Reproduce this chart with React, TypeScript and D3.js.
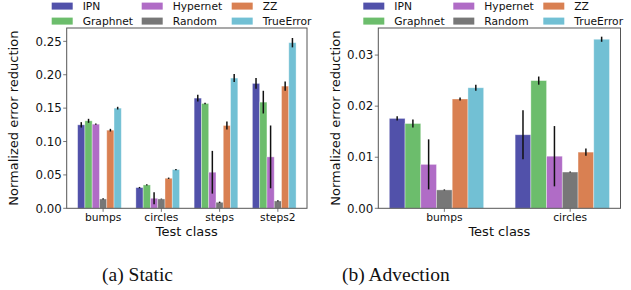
import React from "react";
import * as d3 from "d3";

const methods = ["IPN", "Graphnet", "Hypernet", "Random", "ZZ", "TrueError"];
const colors = ["#5151aa", "#6cbd6c", "#b06cc6", "#777777", "#d98052", "#72c0d4"];

const staticClasses = ["bumps", "circles", "steps", "steps2"];
const staticIPN = [0.125, 0.031, 0.165, 0.187];
const staticGraphnet = [0.131, 0.035, 0.157, 0.159];
const staticHypernet = [0.126, 0.015, 0.054, 0.077];
const staticRandom = [0.014, 0.014, 0.009, 0.011];
const staticZZ = [0.117, 0.045, 0.124, 0.183];
const staticTrueError = [0.150, 0.058, 0.195, 0.248];
const staticIPNErr = [0.004, 0.001, 0.005, 0.008];
const staticGraphnetErr = [0.003, 0.001, 0.001, 0.017];
const staticHypernetErr = [0.001, 0.009, 0.032, 0.047];
const staticRandomErr = [0.001, 0.0005, 0.001, 0.001];
const staticZZErr = [0.002, 0.001, 0.006, 0.007];
const staticTrueErrorErr = [0.002, 0.001, 0.006, 0.007];
const staticTicks = [0, 0.05, 0.1, 0.15, 0.2, 0.25];

const advClasses = ["bumps", "circles"];
const advIPN = [0.0176, 0.0144];
const advGraphnet = [0.0166, 0.025];
const advHypernet = [0.0086, 0.0102];
const advRandom = [0.0036, 0.0071];
const advZZ = [0.0214, 0.011];
const advTrueError = [0.0236, 0.0331];
const advIPNErr = [0.0004, 0.0048];
const advGraphnetErr = [0.0008, 0.0008];
const advHypernetErr = [0.0049, 0.0059];
const advRandomErr = [0.0001, 0.0001];
const advZZErr = [0.0003, 0.0007];
const advTrueErrorErr = [0.0006, 0.0005];
const advTicks = [0, 0.01, 0.02, 0.03];

const FONT = "DejaVu Sans, sans-serif";
const BAR_W = 0.125;

type PanelProps = {
  x0: number; x1: number; y0: number; y1: number; ymax: number;
  classes: string[]; means: number[][]; errs: number[][]; ticks: number[];
  tickFmt: (v: number) => string; ylabelX: number; legendX: number;
  caption: string; captionX: number;
};

function Panel(p: PanelProps) {
  const n = p.classes.length;
  const lo = -2.5 * BAR_W - BAR_W / 2;
  const hi = n - 1 + 2.5 * BAR_W + BAR_W / 2;
  const m = (hi - lo) * 0.05;
  const x = d3.scaleLinear().domain([lo - m, hi + m]).range([p.x0, p.x1]);
  const y = d3.scaleLinear().domain([0, p.ymax]).range([p.y1, p.y0]);
  const bw = x(BAR_W) - x(0);
  return (
    <g>
      {p.means.map((series, k) =>
        series.map((v, i) => {
          const cx = x(i + (k - 2.5) * BAR_W);
          return (
            <rect key={`b${k}-${i}`} x={cx - bw / 2} y={y(v)} width={bw} height={y(0) - y(v)}
              fill={colors[k]} stroke="#ffffff" strokeOpacity={0.45} strokeWidth={0.8} />
          );
        })
      )}
      {p.means.map((series, k) =>
        series.map((v, i) => {
          const cx = x(i + (k - 2.5) * BAR_W);
          const e = p.errs[k][i];
          return (
            <line key={`e${k}-${i}`} x1={cx} x2={cx} y1={y(v - e)} y2={y(v + e)}
              stroke="#111" strokeWidth={1.5} />
          );
        })
      )}
      <rect x={p.x0} y={p.y0} width={p.x1 - p.x0} height={p.y1 - p.y0} fill="none" stroke="#555" strokeWidth={1} />
      {p.ticks.map((t) => (
        <g key={`t${t}`}>
          <line x1={p.x0 - 3.5} x2={p.x0} y1={y(t)} y2={y(t)} stroke="#555" strokeWidth={0.8} />
          <text x={p.x0 - 5} y={y(t)} dy="0.36em" textAnchor="end" fontSize={11.8} fontFamily={FONT} fill="#111">
            {p.tickFmt(t)}
          </text>
        </g>
      ))}
      {p.classes.map((c, i) => {
        const tx = x(i + BAR_W / 2);
        return (
          <g key={`c${c}`}>
            <line x1={tx} x2={tx} y1={p.y1} y2={p.y1 + 3.5} stroke="#555" strokeWidth={0.8} />
            <text x={tx} y={p.y1 + 12.8} textAnchor="middle" fontSize={10.7} fontFamily={FONT} fill="#111">{c}</text>
          </g>
        );
      })}
      <text x={(p.x0 + p.x1) / 2} y={236.3} textAnchor="middle" fontSize={13} fontFamily={FONT} fill="#111">Test class</text>
      <text transform={`translate(${p.ylabelX},${(p.y0 + p.y1) / 2}) rotate(-90)`} dy="0.36em" textAnchor="middle"
        fontSize={13} fontFamily={FONT} fill="#111">Normalized error reduction</text>
      {methods.map((mname, k) => {
        const col = Math.floor(k / 2);
        const row = k % 2;
        const lx = p.legendX + col * 90;
        const ly = 6 + row * 15;
        return (
          <g key={`l${mname}`}>
            <rect x={lx} y={ly - 3.4} width={21} height={7} fill={colors[k]} />
            <text x={lx + 31} y={ly} dy="0.36em" fontSize={10.7} fontFamily={FONT} fill="#111">{mname}</text>
          </g>
        );
      })}
      <text x={p.captionX} y={281} textAnchor="middle" fontSize={19.5} fontFamily="Liberation Serif, Times New Roman, serif" fill="#111">
        {p.caption}
      </text>
    </g>
  );
}

export default function App() {
  const staticMeans = [staticIPN, staticGraphnet, staticHypernet, staticRandom, staticZZ, staticTrueError];
  const staticErrs = [staticIPNErr, staticGraphnetErr, staticHypernetErr, staticRandomErr, staticZZErr, staticTrueErrorErr];
  const advMeans = [advIPN, advGraphnet, advHypernet, advRandom, advZZ, advTrueError];
  const advErrs = [advIPNErr, advGraphnetErr, advHypernetErr, advRandomErr, advZZErr, advTrueErrorErr];
  return (
    <svg width={631} height={290} style={{ position: "absolute", left: 0, top: 0, background: "#fff" }}>
      <rect width={631} height={290} fill="#fff" />
      <Panel x0={66.7} x1={307} y0={28} y1={208.3} ymax={0.27} classes={staticClasses}
        means={staticMeans} errs={staticErrs} ticks={staticTicks} tickFmt={d3.format(".2f")}
        ylabelX={13} legendX={51.7} caption="(a) Static" captionX={137.5} />
      <Panel x0={378.3} x1={620.5} y0={28} y1={208.3} ymax={0.0353} classes={advClasses}
        means={advMeans} errs={advErrs} ticks={advTicks} tickFmt={d3.format(".2f")}
        ylabelX={335} legendX={363.3} caption="(b) Advection" captionX={395.8} />
    </svg>
  );
}
